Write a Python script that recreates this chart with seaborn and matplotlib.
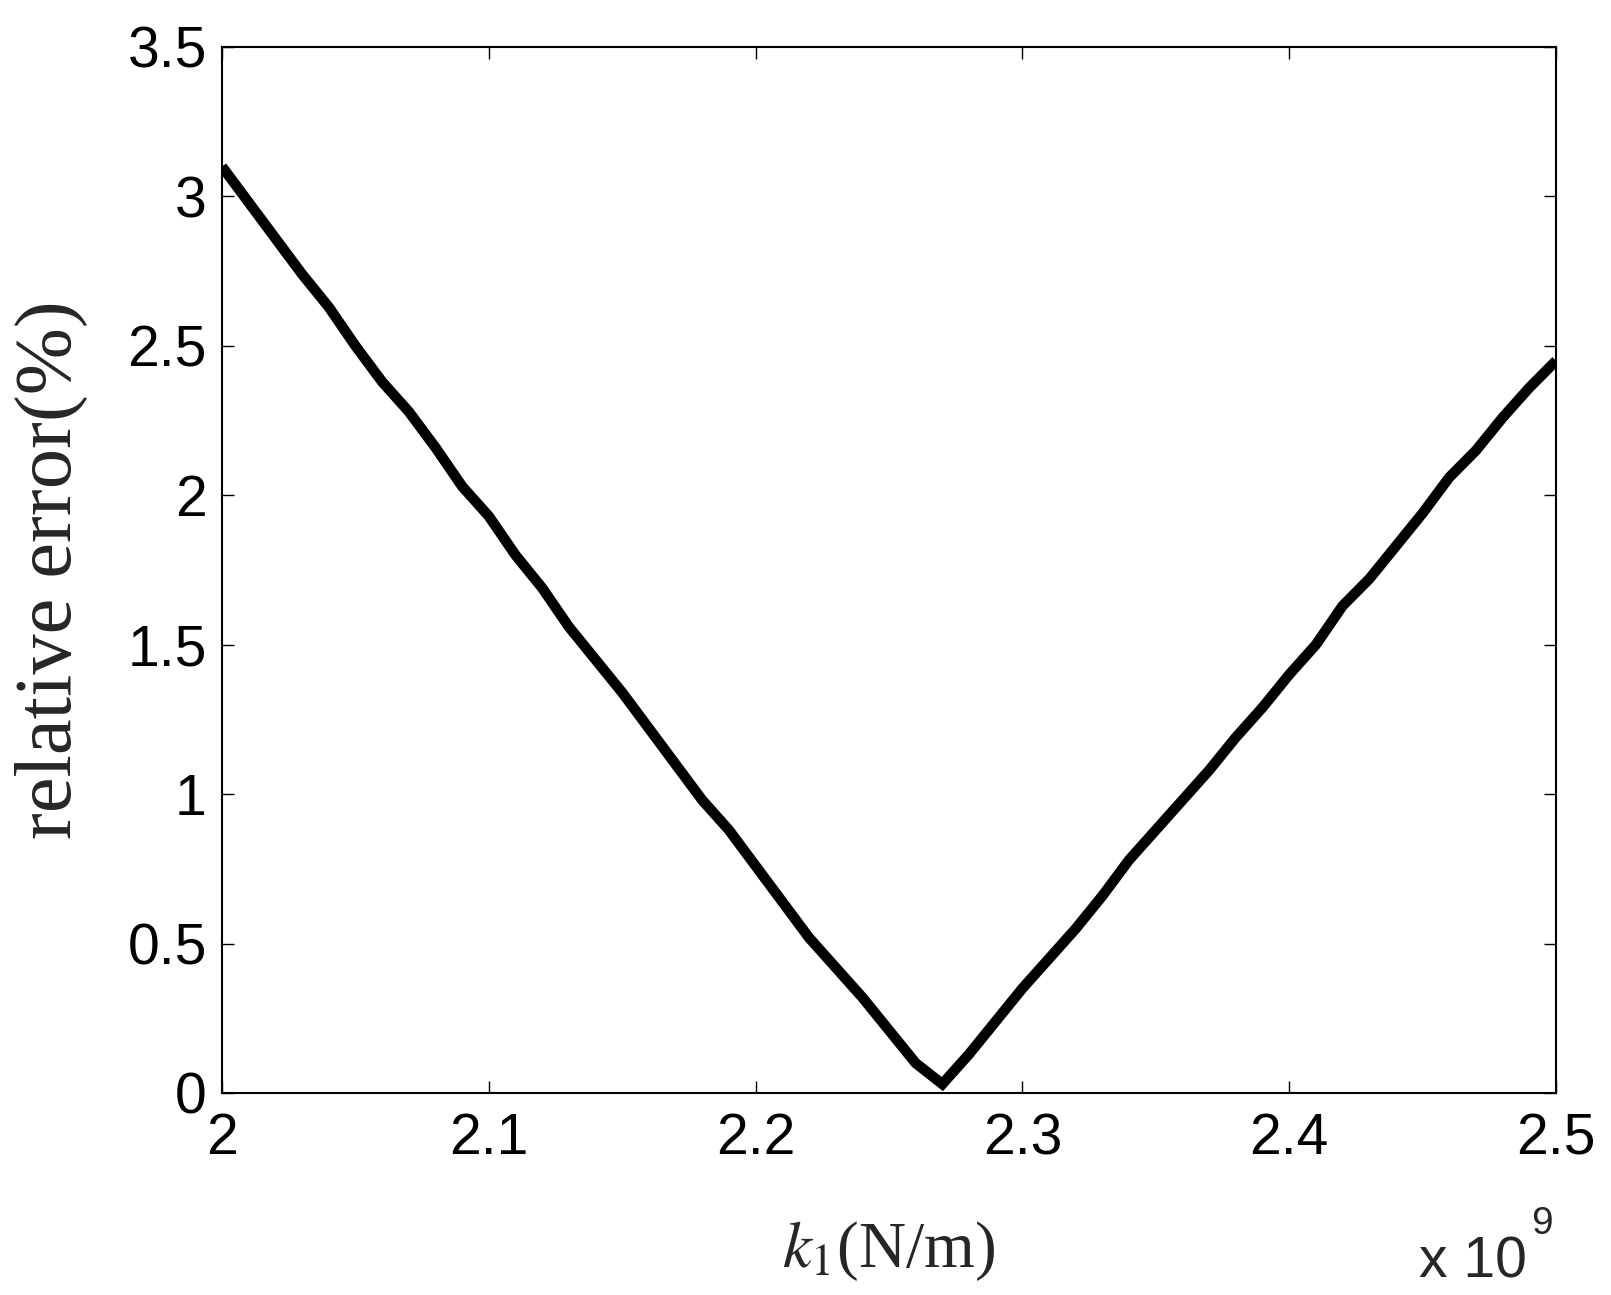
import matplotlib
matplotlib.use("Agg")
import matplotlib.pyplot as plt
import seaborn as sns
import numpy as np
import pandas as pd

# k1 values (x 1e9 N/m)
k1 = [2.00, 2.01, 2.02, 2.03, 2.04, 2.05, 2.06, 2.07, 2.08, 2.09,
      2.10, 2.11, 2.12, 2.13, 2.14, 2.15, 2.16, 2.17, 2.18, 2.19,
      2.20, 2.21, 2.22, 2.23, 2.24, 2.25, 2.26, 2.27, 2.28, 2.29,
      2.30, 2.31, 2.32, 2.33, 2.34, 2.35, 2.36, 2.37, 2.38, 2.39,
      2.40, 2.41, 2.42, 2.43, 2.44, 2.45, 2.46, 2.47, 2.48, 2.49, 2.50]
rel_err = [3.10, 2.98, 2.86, 2.74, 2.63, 2.50, 2.38, 2.28, 2.16, 2.03,
           1.93, 1.80, 1.69, 1.56, 1.45, 1.34, 1.22, 1.10, 0.98, 0.88,
           0.76, 0.64, 0.52, 0.42, 0.32, 0.21, 0.10, 0.03, 0.13, 0.24,
           0.35, 0.45, 0.55, 0.66, 0.78, 0.88, 0.98, 1.08, 1.19, 1.29,
           1.40, 1.50, 1.63, 1.72, 1.83, 1.94, 2.06, 2.15, 2.26, 2.36, 2.45]
xticks = [2.0, 2.1, 2.2, 2.3, 2.4, 2.5]
xticklabels = ["2", "2.1", "2.2", "2.3", "2.4", "2.5"]
yticks = [0, 0.5, 1, 1.5, 2, 2.5, 3, 3.5]
yticklabels = ["0", "0.5", "1", "1.5", "2", "2.5", "3", "3.5"]

sns.set_style("white")
plt.rcParams["font.family"] = ["Liberation Sans", "DejaVu Sans"]
plt.rcParams["mathtext.fontset"] = "stix"

df = pd.DataFrame({"k1": k1, "err": rel_err})

fig = plt.figure(figsize=(16.11, 12.95), dpi=100)
ax = fig.add_axes([222/1611, 1 - 1093/1295, (1556 - 222)/1611, (1093 - 47)/1295])

sns.lineplot(data=df, x="k1", y="err", ax=ax, color="black", linewidth=7.5,
             solid_joinstyle="miter", solid_capstyle="butt")

ax.set_xlim(2.0, 2.5)
ax.set_ylim(0, 3.5)
ax.set_xticks(xticks)
ax.set_xticklabels(xticklabels)
ax.set_yticks(yticks)
ax.set_yticklabels(yticklabels)

for s in ax.spines.values():
    s.set_visible(True)
    s.set_color("black")
    s.set_linewidth(1.5)

ax.tick_params(axis="both", which="major", direction="in", length=8.5, width=1,
               top=True, right=True, bottom=True, left=True,
               labelsize=41, colors="black")
ax.tick_params(axis="x", pad=14)
ax.tick_params(axis="y", pad=11)

ax.set_xlabel(r"$k_1$(N/m)", fontsize=47, family=["Liberation Serif", "DejaVu Serif"],
              labelpad=38)
ax.set_ylabel("relative error(%)", fontsize=58, family=["Liberation Serif", "DejaVu Serif"],
              labelpad=28)

fig.text(1419/1611, 1 - 1278/1295, "x 10", fontsize=41, ha="left", va="baseline",
         family=["Liberation Sans", "DejaVu Sans"])
fig.text(1531/1611, 1 - 1234/1295, "9", fontsize=28, ha="left", va="baseline",
         family=["Liberation Sans", "DejaVu Sans"])

fig.savefig("out.png", dpi=100, facecolor="white")
